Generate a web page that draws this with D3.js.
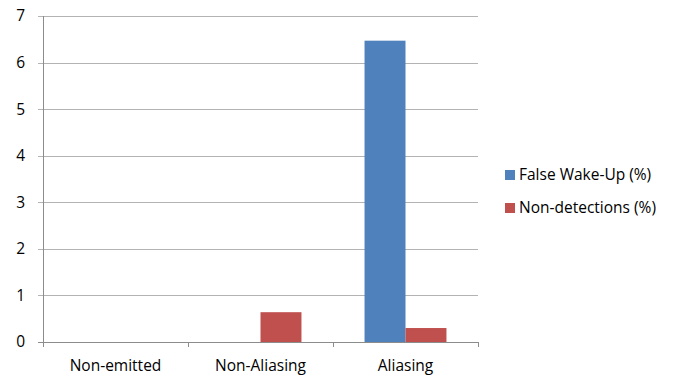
<!DOCTYPE html>
<html>
<head>
<meta charset="utf-8">
<script src="https://cdn.jsdelivr.net/npm/d3@7"></script>
<style>
  body { margin: 0; background: #fff; }
  svg { display: block; font-family: "Open Sans", "Noto Sans", sans-serif; }
</style>
</head>
<body>
<svg id="chart" width="676" height="376"></svg>
<script>
// Categories and series
const categories = ["Non-emitted", "Non-Aliasing", "Aliasing"];
const seriesNames = ["False Wake-Up (%)", "Non-detections (%)"];
const falseWakeUp = [0, 0, 6.47];
const nonDetections = [0, 0.64, 0.30];
const yTicks = [0, 1, 2, 3, 4, 5, 6, 7];
const colors = ["#4F81BD", "#C0504D"];

const series = [falseWakeUp, nonDetections];
const svg = d3.select("#chart");
const margin = { left: 43, right: 198, top: 16, bottom: 34 };
const W = 676, H = 376;
const fontSize = 15.5;

const x = d3.scaleBand().domain(categories).range([margin.left, W - margin.right]);
const xInner = d3.scaleBand().domain(seriesNames).range([0, x.bandwidth()]).paddingInner(0).paddingOuter(0.77);
const y = d3.scaleLinear().domain([0, 7]).range([H - margin.bottom, margin.top]);

// Horizontal gridlines
svg.append("g")
  .selectAll("line")
  .data(yTicks)
  .join("line")
  .attr("x1", margin.left - 5)
  .attr("x2", W - margin.right)
  .attr("y1", d => Math.round(y(d)) + 0.5)
  .attr("y2", d => Math.round(y(d)) + 0.5)
  .attr("stroke", "#b3b3b3")
  .attr("stroke-width", 1);

// Y axis labels
svg.append("g")
  .selectAll("text")
  .data(yTicks)
  .join("text")
  .attr("x", margin.left - 18)
  .attr("y", d => y(d))
  .attr("dy", "0.35em")
  .attr("text-anchor", "end")
  .attr("font-size", fontSize)
  .attr("fill", "#000")
  .text(d => d);

// Bars
const groups = svg.append("g")
  .selectAll("g")
  .data(categories)
  .join("g")
  .attr("transform", d => `translate(${x(d)},0)`);

groups.selectAll("rect")
  .data((c, i) => seriesNames.map((s, j) => ({ s, v: series[j][i], j })))
  .join("rect")
  .attr("x", d => xInner(d.s))
  .attr("width", xInner.bandwidth())
  .attr("y", d => y(d.v))
  .attr("height", d => y(0) - y(d.v))
  .attr("fill", d => colors[d.j]);

// Axis lines
svg.append("line")
  .attr("x1", margin.left + 0.5).attr("x2", margin.left + 0.5)
  .attr("y1", y(7)).attr("y2", y(0) + 5)
  .attr("stroke", "#8c8c8c");
svg.append("line")
  .attr("x1", margin.left - 5).attr("x2", W - margin.right)
  .attr("y1", Math.round(y(0)) + 0.5).attr("y2", Math.round(y(0)) + 0.5)
  .attr("stroke", "#8c8c8c");

// Category ticks
svg.append("g")
  .selectAll("line")
  .data(categories.slice(1).concat(["end"]))
  .join("line")
  .attr("x1", (d, i) => Math.round(margin.left + (i + 1) * x.bandwidth()) + 0.5)
  .attr("x2", (d, i) => Math.round(margin.left + (i + 1) * x.bandwidth()) + 0.5)
  .attr("y1", y(0))
  .attr("y2", y(0) + 5)
  .attr("stroke", "#8c8c8c");

// Category labels
svg.append("g")
  .selectAll("text")
  .data(categories)
  .join("text")
  .attr("x", d => x(d) + x.bandwidth() / 2)
  .attr("y", H - 5)
  .attr("text-anchor", "middle")
  .attr("font-size", fontSize)
  .attr("fill", "#000")
  .text(d => d);

// Legend
const legend = svg.append("g")
  .selectAll("g")
  .data(seriesNames)
  .join("g")
  .attr("transform", (d, i) => `translate(505,${175 + i * 33})`);
legend.append("rect")
  .attr("x", 0).attr("y", -5).attr("width", 10).attr("height", 10)
  .attr("fill", (d, i) => colors[i]);
legend.append("text")
  .attr("x", 14).attr("y", 0).attr("dy", "0.35em")
  .attr("font-size", fontSize)
  .attr("fill", "#000")
  .text(d => d);
</script>
</body>
</html>
